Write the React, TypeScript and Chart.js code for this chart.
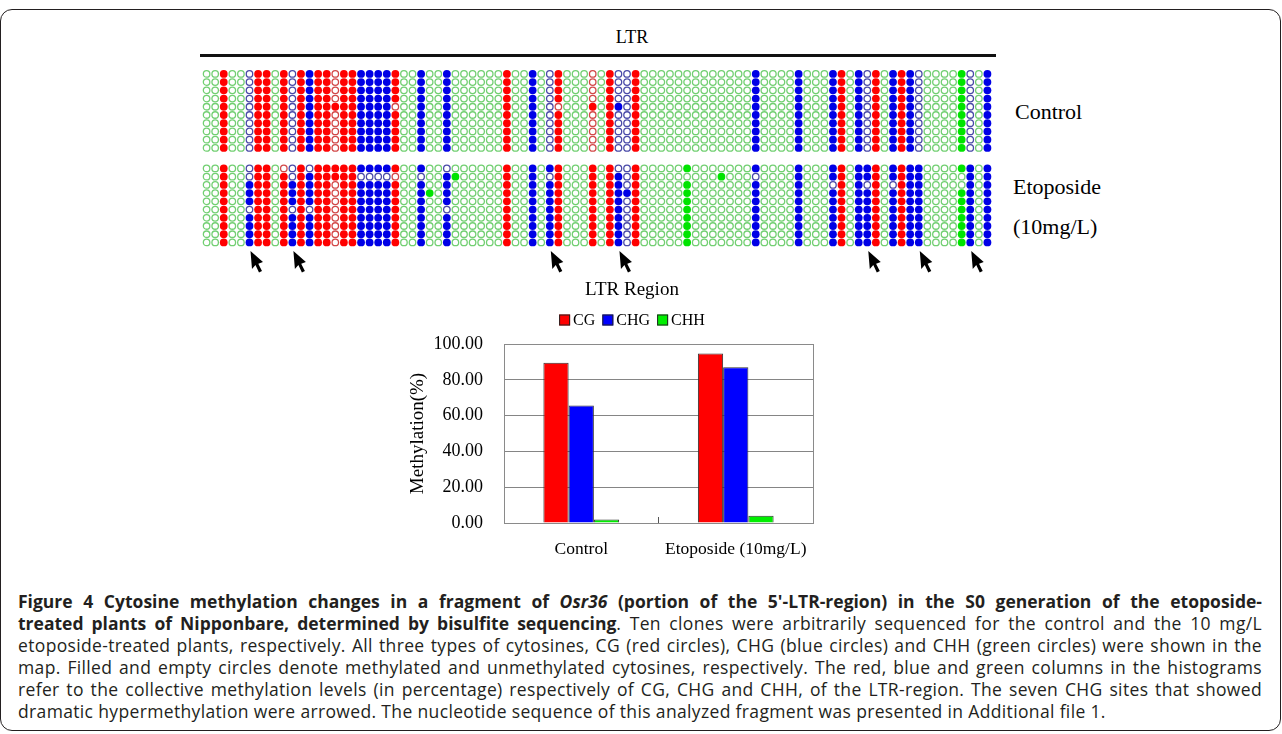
import React, { useEffect, useRef } from "react";
import { Chart, registerables } from "chart.js";
Chart.register(...registerables);

const SERIF = '"Liberation Serif", "Times New Roman", Times, serif';
const SANS = '"Open Sans", "Noto Sans", sans-serif';

// ---------------- methylation map data ----------------
// site type of each of the 92 cytosine columns: r = CG, b = CHG, g = CHH
const siteTypes = [
  "ggrggbrrgr", "brbrrrrrbb", "bbrggbggbg", "gggggrggbg", "brgggrgrbb",
  "rggggggggg", "ggggbggggb", "gggbrgbbrg", "brbbgggggb", "gb",
].join("");
const CLONES = 10;
// 1 = methylated (filled), 0 = unmethylated (empty); common pattern of the clones
const controlBase = [
  "0010001101", "0111101111", "1110010010", "0000010010", "0100000100",
  "1000000000", "0000100001", "0001101010", "1110000010", "01",
].join("");
const etoBase = [
  "0010011101", "1111101111", "1110010010", "0000010010", "1100010110",
  "1000001000", "0000100001", "0001101110", "1111000011", "01",
].join("");
// [column, clone rows, value] departures from the common pattern
const controlChanges: [number, number[], number][] = [
  [15, [4], 1], [22, [4], 0], [41, [4], 0], [45, [4], 1], [48, [4], 1],
];
const etoChanges: [number, number[], number][] = [
  [5, [0, 1, 5], 0], [9, [0], 0], [10, [0, 1, 5], 0], [12, [0, 5], 0], [15, [0, 1], 1],
  [18, [1], 0], [19, [1], 0], [20, [1], 0], [21, [1], 0], [22, [1], 0], [25, [1], 0],
  [26, [3], 1], [28, [0, 5], 0], [29, [1], 1], [40, [1], 0], [48, [0], 0], [49, [3], 1],
  [56, [1], 0], [60, [1], 1], [64, [1], 0], [73, [2], 0], [77, [2], 0], [80, [2], 0],
  [88, [1, 2], 0],
];
const arrowCols = [5, 10, 40, 48, 77, 83, 89];

// ---------------- histogram data ----------------
const barCategories = ["Control", "Etoposide (10mg/L)"];
const cgValues = [89.47, 94.74];
const chgValues = [65.65, 86.96];
const chhValues = [2.0, 4.0];
const yTickStep = 20;
const yMax = 100;

// ---------------- caption ----------------
type Seg = { t: string; b?: boolean; i?: boolean };
const captionLines: Seg[][] = [
  [
    { t: "Figure 4 Cytosine methylation changes in a fragment of ", b: true },
    { t: "Osr36", b: true, i: true },
    { t: " (portion of the 5'-LTR-region) in the S0 generation of the etoposide-", b: true },
  ],
  [
    { t: "treated plants of Nipponbare, determined by bisulfite sequencing", b: true },
    { t: ". Ten clones were arbitrarily sequenced for the control and the 10 mg/L" },
  ],
  [{ t: "etoposide-treated plants, respectively. All three types of cytosines, CG (red circles), CHG (blue circles) and CHH (green circles) were shown in the" }],
  [{ t: "map. Filled and empty circles denote methylated and unmethylated cytosines, respectively. The red, blue and green columns in the histograms" }],
  [{ t: "refer to the collective methylation levels (in percentage) respectively of CG, CHG and CHH, of the LTR-region. The seven CHG sites that showed" }],
  [{ t: "dramatic hypermethylation were arrowed. The nucleotide sequence of this analyzed fragment was presented in Additional file 1." }],
];

const COLORS: Record<string, { filled: string; open: string; name: string }> = {
  r: { filled: "#ff0000", open: "#d24848", name: "CG" },
  b: { filled: "#0000e6", open: "#4a4aa8", name: "CHG" },
  g: { filled: "#00e400", open: "#72cf72", name: "CHH" },
};
const ETO_OFFSET = 11.5;
const ARROW_ROW = 21.55;

function buildGrid(base: string, changes: [number, number[], number][]) {
  const rows = Array.from({ length: CLONES }, () => base.split("").map(Number));
  changes.forEach(([c, rs, v]) => rs.forEach((r) => (rows[r][c] = v)));
  return rows;
}

const arrowPlugin = {
  id: "arrows",
  afterDatasetsDraw(chart: any) {
    const { ctx } = chart;
    const xs = chart.scales.x;
    const ys = chart.scales.y;
    ctx.save();
    ctx.fillStyle = "#000";
    arrowCols.forEach((c) => {
      const px = xs.getPixelForValue(c) + 1;
      const py = ys.getPixelForValue(ARROW_ROW);
      ctx.beginPath();
      ctx.moveTo(px, py);
      ctx.lineTo(px + 1.5, py + 18);
      ctx.lineTo(px + 5, py + 14);
      ctx.lineTo(px + 8.5, py + 21.5);
      ctx.lineTo(px + 11.5, py + 20);
      ctx.lineTo(px + 7.8, py + 12.6);
      ctx.lineTo(px + 12.5, py + 11);
      ctx.closePath();
      ctx.fill();
    });
    ctx.restore();
  },
};

const HEADER_X = 242; // canvas coords
const TITLE_Y = 20;
const LEGEND_Y = 50;
const headerPlugin = {
  id: "header",
  afterDraw(chart: any) {
    const { ctx } = chart;
    ctx.save();
    ctx.fillStyle = "#000";
    ctx.textAlign = "center";
    ctx.textBaseline = "middle";
    ctx.font = `19px ${SERIF}`;
    ctx.fillText("LTR Region", HEADER_X, TITLE_Y);
    ctx.font = `16px ${SERIF}`;
    const items = chart.data.datasets.map((d: any) => ({
      label: d.label,
      color: d.backgroundColor,
      w: ctx.measureText(d.label).width,
    }));
    const box = 11, gap = 3, space = 7;
    const total = items.reduce((s: number, it: any) => s + box + gap + it.w, 0) + space * (items.length - 1);
    let x = HEADER_X - total / 2;
    ctx.textAlign = "left";
    items.forEach((it: any) => {
      ctx.fillStyle = it.color;
      ctx.fillRect(x, LEGEND_Y - box / 2, box, box);
      ctx.strokeStyle = "#222";
      ctx.lineWidth = 1;
      ctx.strokeRect(x + 0.5, LEGEND_Y - box / 2 + 0.5, box - 1, box - 1);
      ctx.fillStyle = "#000";
      ctx.fillText(it.label, x + box + gap, LEGEND_Y + 1);
      x += box + gap + it.w + space;
    });
    ctx.restore();
  },
};

const framePlugin = {
  id: "frame",
  afterDatasetsDraw(chart: any) {
    const { ctx, chartArea: a } = chart;
    ctx.save();
    ctx.strokeStyle = "#8a8a8a";
    ctx.lineWidth = 1;
    ctx.strokeRect(Math.round(a.left) + 0.5, Math.round(a.top) + 0.5, Math.round(a.right - a.left), Math.round(a.bottom - a.top));
    ctx.restore();
  },
};

export default function App() {
  const mapRef = useRef<HTMLCanvasElement>(null);
  const barRef = useRef<HTMLCanvasElement>(null);

  useEffect(() => {
    const groups = [buildGrid(controlBase, controlChanges), buildGrid(etoBase, etoChanges)];
    const datasets: any[] = [];
    ["r", "b", "g"].forEach((t) => {
      [0, 1].forEach((m) => {
        const pts: { x: number; y: number }[] = [];
        groups.forEach((grid, gi) => {
          grid.forEach((row, r) => {
            row.forEach((v, c) => {
              if (siteTypes[c] === t && v === m) pts.push({ x: c, y: (gi === 0 ? 0 : ETO_OFFSET) + r });
            });
          });
        });
        datasets.push({
          label: `${COLORS[t].name} ${m ? "methylated" : "unmethylated"}`,
          data: pts,
          pointRadius: m ? 3.9 : 3.25,
          pointBorderWidth: m ? 0 : 1.3,
          pointBackgroundColor: m ? COLORS[t].filled : "#ffffff",
          pointBorderColor: m ? COLORS[t].filled : COLORS[t].open,
          showLine: false,
        });
      });
    });

    const mapChart = new Chart(mapRef.current as HTMLCanvasElement, {
      type: "scatter",
      data: { datasets },
      options: {
        animation: false,
        responsive: false,
        devicePixelRatio: 1,
        events: [],
        layout: { padding: 0 },
        clip: false as any,
        scales: {
          x: { type: "linear", min: -0.5, max: siteTypes.length - 0.5, display: false },
          y: { type: "linear", min: -1.043, max: 25.029, reverse: true, display: false },
        },
        plugins: { legend: { display: false }, tooltip: { enabled: false } },
      },
      plugins: [arrowPlugin],
    });

    const barChart = new Chart(barRef.current as HTMLCanvasElement, {
      type: "bar",
      data: {
        labels: barCategories,
        datasets: [
          { label: "CG", data: cgValues, backgroundColor: "#ff0000", borderColor: "#333", borderWidth: 1 },
          { label: "CHG", data: chgValues, backgroundColor: "#0000ff", borderColor: "#333", borderWidth: 1 },
          { label: "CHH", data: chhValues, backgroundColor: "#00ee00", borderColor: "#333", borderWidth: 1 },
        ],
      },
      options: {
        animation: false,
        responsive: false,
        devicePixelRatio: 1,
        events: [],
        layout: { padding: { left: 0, right: 47, top: 74, bottom: 0 } },
        datasets: { bar: { categoryPercentage: 0.49, barPercentage: 1 } },
        scales: {
          x: {
            grid: { offset: true, drawOnChartArea: false, drawTicks: true, tickLength: -6, color: "#555" },
            border: { color: "#404040" },
            ticks: { font: { family: SERIF, size: 17.5 }, color: "#000", padding: 22 },
            afterFit: (s: any) => {
              s.height = 47;
            },
          },
          y: {
            min: 0,
            max: yMax,
            ticks: {
              stepSize: yTickStep,
              callback: (v: any) => Number(v).toFixed(2),
              font: { family: SERIF, size: 18 },
              color: "#000",
              padding: 21,
            },
            grid: { color: "#858585", drawTicks: false },
            border: { color: "#858585" },
            title: {
              display: true,
              text: "Methylation(%)",
              font: { family: SERIF, size: 19 },
              color: "#000",
              padding: { top: 16.6, bottom: 0 },
            },
            afterFit: (s: any) => {
              s.width = 114;
            },
          },
        },
        plugins: { legend: { display: false }, title: { display: false }, tooltip: { enabled: false } },
      },
      plugins: [framePlugin, headerPlugin],
    });

    return () => {
      mapChart.destroy();
      barChart.destroy();
    };
  }, []);

  const serifText = (text: string, left: number, cy: number, size: number) => (
    <div
      style={{
        position: "absolute",
        left,
        top: cy - 15,
        height: 30,
        lineHeight: "30px",
        fontFamily: SERIF,
        fontSize: size,
        color: "#000",
        whiteSpace: "nowrap",
      }}
    >
      {text}
    </div>
  );

  return (
    <div style={{ position: "absolute", left: 0, top: 0, width: 1282, height: 734, background: "#fff", overflow: "hidden" }}>
      <div
        style={{
          position: "absolute",
          left: 0,
          top: 9,
          width: 1281,
          height: 722,
          boxSizing: "border-box",
          border: "1.5px solid #231f20",
          borderRadius: 12,
        }}
      />
      <div
        style={{
          position: "absolute",
          left: 532,
          width: 200,
          top: 22,
          lineHeight: "30px",
          textAlign: "center",
          fontFamily: SERIF,
          fontSize: 18,
          color: "#000",
        }}
      >
        LTR
      </div>
      <div style={{ position: "absolute", left: 200, top: 54, width: 796, height: 3, background: "#111" }} />
      {serifText("Control", 1015, 112, 22)}
      {serifText("Etoposide", 1013, 187, 22)}
      {serifText("(10mg/L)", 1013, 227, 22)}
      <canvas ref={mapRef} width={800} height={225} style={{ position: "absolute", left: 197, top: 60 }} />
      <canvas ref={barRef} width={470} height={300} style={{ position: "absolute", left: 390, top: 270 }} />
      <div
        style={{
          position: "absolute",
          left: 18,
          top: 590,
          width: 1244,
          fontFamily: SANS,
          fontSize: 17.5,
          lineHeight: "22px",
          color: "#231f20",
        }}
      >
        {captionLines.map((line, li) => (
          <div
            key={li}
            style={{
              textAlign: li < captionLines.length - 1 ? "justify" : "left",
              textAlignLast: li < captionLines.length - 1 ? "justify" : "left",
              whiteSpace: "nowrap",
              height: 22,
            }}
          >
            {line.map((s, si) => (
              <span
                key={si}
                style={{
                  fontWeight: s.b ? 700 : 400,
                  fontStyle: s.i ? "italic" : "normal",
                  letterSpacing: s.b ? 0 : "0.35px",
                }}
              >
                {s.t}
              </span>
            ))}
          </div>
        ))}
      </div>
    </div>
  );
}
